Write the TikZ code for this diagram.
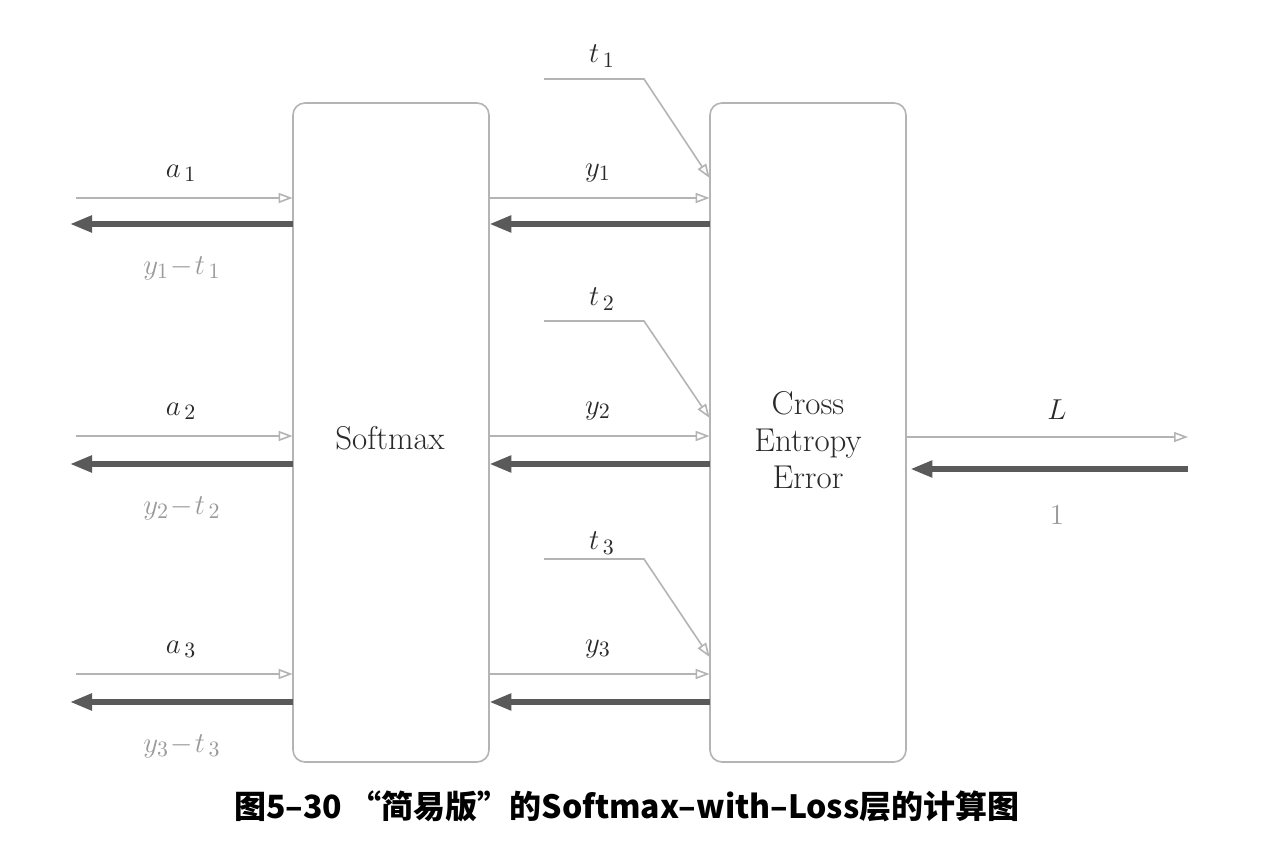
\documentclass[tikz,border=0pt]{standalone}
\usepackage{fontspec}
\newfontfamily\cjk{Noto Sans CJK SC}
\usetikzlibrary{arrows.meta}
\definecolor{thinc}{HTML}{B4B4B4}
\definecolor{thickc}{HTML}{5A5A5A}
\definecolor{boxc}{HTML}{B4B4B4}
\definecolor{lab}{HTML}{2A2A2A}
\definecolor{glab}{HTML}{9A9A9A}
\tikzset{
  layer/.style={draw=boxc, line width=0.8pt, rounded corners=6pt},
  fwd/.style={draw=thinc, line width=0.8pt, -{Triangle[open, length=7pt, width=5pt]}},
  bwd/.style={draw=thickc, line width=2.6pt, -{Triangle[length=11pt, width=8pt]}},
  lbl/.style={text=lab, font=\fontsize{15.5}{18}\selectfont, inner sep=0pt},
  glbl/.style={text=glab, font=\fontsize{15.5}{18}\selectfont, inner sep=0pt},
  txt/.style={text=lab, font=\fontsize{16.5}{18.5}\selectfont, inner sep=0pt},
}
\begin{document}
\begin{tikzpicture}[x=0.5pt, y=-0.5pt]
\useasboundingbox[fill=white] (0,0) rectangle (1264,854);
% boxes
\draw[layer] (293,103) rectangle (489,762);
\node[inner sep=0pt, minimum width=98pt, minimum height=329.5pt] (sm) at (391,432.5) {};
\node[txt] (smt) at (390,438) {Softmax};
\draw[layer] (710,103) rectangle (906,762);
\node[inner sep=0pt, minimum width=98pt, minimum height=329.5pt] (ce) at (808,432.5) {};
\node[txt, align=center] (cet) at (808,440) {Cross\\Entropy\\Error};
% left side
\foreach \i/\yf/\yb in {1/198/224, 2/436/464, 3/674/702}{
  \coordinate (lin\i) at (76,\yf);
  \coordinate (lout\i) at (70,\yb);
  \draw[fwd] (lin\i) -- (sm.west |- lin\i);
  \draw[bwd] (sm.west |- lout\i) -- (lout\i);
  \node[lbl] (a\i) at (181,\yf-25) {$a_{\,\i}$};
  \node[glbl] (d\i) at (182,\yb+44) {$y_{\i}\!-\!t_{\,\i}$};
  % middle
  \draw[fwd] (sm.east |- lin\i) -- (ce.west |- lin\i);
  \draw[bwd] (ce.west |- lout\i) -- (sm.east |- lout\i);
  \node[lbl] (y\i) at (598,\yf-25) {$y_{\i}$};
}
% t inputs
\foreach \i/\yl/\yt/\ye in {1/79/56/178, 2/321/299/418, 3/559/543/657}{
  \coordinate (ts\i) at (544,\yl);
  \coordinate (tk\i) at (644,\yl);
  \draw[fwd] (ts\i) -- (tk\i) -- (ce.west |- 0,\ye);
  \node[lbl] (t\i) at (602,\yt) {$t_{\,\i}$};
}
% right side
\coordinate (rout) at (1188,437);
\coordinate (rin) at (1188,469);
\draw[fwd] (ce.east |- rout) -- (rout);
\draw[bwd] (rin) -- ([xshift=2pt]ce.east |- rin);
\node[lbl] (L) at (1057,410) {$L$};
\node[glbl] (one) at (1057,515) {$1$};
% caption
\node[inner sep=0pt, text=black, font=\cjk\bfseries\fontsize{16}{19}\selectfont] (cap) at (627,806) {图5–30 “简易版”的Softmax–with–Loss层的计算图};
\end{tikzpicture}
\end{document}
